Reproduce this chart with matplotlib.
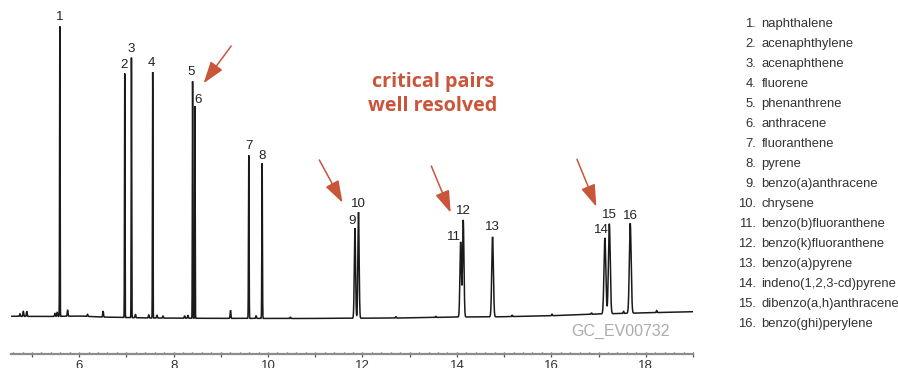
import numpy as np
import matplotlib
matplotlib.use("Agg")
import matplotlib.pyplot as plt
from matplotlib.ticker import MultipleLocator, FuncFormatter

# ---------------- data ----------------
peak_ids = list(range(1, 17))
compounds = ["naphthalene", "acenaphthylene", "acenaphthene", "fluorene",
             "phenanthrene", "anthracene", "fluoranthene", "pyrene",
             "benzo(a)anthracene", "chrysene", "benzo(b)fluoranthene",
             "benzo(k)fluoranthene", "benzo(a)pyrene", "indeno(1,2,3-cd)pyrene",
             "dibenzo(a,h)anthracene", "benzo(ghi)perylene"]
# retention time (min), peak height above baseline (response units), peak sigma (min)
peak_rt = [5.59, 6.965, 7.107, 7.557, 8.402, 8.451, 9.592, 9.875,
           11.840, 11.916, 14.079, 14.134, 14.755, 17.134, 17.228, 17.671]
peak_height = [290, 244, 260, 246, 237, 212, 163, 155,
               90, 106, 75, 97, 80, 76, 90, 90]
peak_sigma = [0.005, 0.005, 0.005, 0.005, 0.005, 0.005, 0.006, 0.006,
              0.013, 0.013, 0.015, 0.015, 0.017, 0.019, 0.019, 0.019]

# minor (unlabelled) peaks on the baseline
minor_rt = [4.747, 4.817, 4.889, 5.487, 5.535, 5.755, 6.177, 6.507, 7.192,
            7.473, 7.648, 7.775, 8.233, 8.303, 9.205, 9.748, 10.473, 12.706,
            13.551, 15.17, 16.015, 16.85, 17.53, 18.23]
minor_height = [2.5, 5, 5, 3, 4, 6, 2, 6, 3.5, 3, 3, 2, 2.5, 3, 8, 2.5, 1.5,
                1.5, 1.2, 1.5, 1.5, 1.5, 2, 2]

# baseline drift anchors
base_rt = [4.551, 5.381, 6.015, 6.437, 7.494, 8.551, 10.664, 12.777,
           14.045, 14.890, 15.946, 17.002, 17.847, 18.967]
base_resp = [37.7, 37.5, 38.0, 37.0, 36.0, 35.7, 35.5, 36.0,
             37.0, 37.2, 38.2, 40.0, 41.0, 42.3]

# arrows: (tail rt, tail resp) -> (tip rt, tip resp)
arrow_tail = [(9.220, 308.0), (11.086, 194.0), (13.458, 188.0), (16.543, 194.7)]
arrow_tip = [(8.635, 270.7), (11.578, 151.3), (13.868, 141.3), (16.953, 147.3)]

x_min, x_max = 4.55, 19.0
tick_labels_even = [6, 8, 10, 12, 14, 16, 18]

# label offsets (pixels) relative to peak apex
label_dx = [0, -1, 0, -1, -1, 3, 0, 0, -3, 0, -7, 0, 0, -4, 0, 0]
label_dy = [9, 8, 9, 9, 9, 6, 9, 7, 7, 8, 5, 9, 9.5, 8, 9, 7]

# ---------------- build trace ----------------
t = np.arange(x_min, x_max + 0.0005, 0.001)
signal = np.interp(t, base_rt, base_resp)
for rt, h, s in zip(peak_rt, peak_height, peak_sigma):
    signal += h * np.exp(-0.5 * ((t - rt) / s) ** 2)
for rt, h in zip(minor_rt, minor_height):
    signal += h * np.exp(-0.5 * ((t - rt) / 0.008) ** 2)

# ---------------- figure ----------------
W, H = 898, 368
fig = plt.figure(figsize=(W / 100, H / 100), dpi=100)
ax_left, ax_right, ax_bottom_px = 10.7, 693.0, 354.0
ax = fig.add_axes([ax_left / W, (H - ax_bottom_px) / H,
                   (ax_right - ax_left) / W, ax_bottom_px / H])
ax.set_xlim(x_min, x_max)
ax.set_ylim(0, ax_bottom_px)

ax.plot(t, signal, color="#1a1a1a", lw=1.1, solid_joinstyle="miter")

for sp in ["top", "right", "left"]:
    ax.spines[sp].set_visible(False)
ax.spines["bottom"].set_color("#8c8c8c")
ax.spines["bottom"].set_linewidth(1.6)
ax.set_yticks([])
ax.xaxis.set_major_locator(MultipleLocator(1))
ax.xaxis.set_minor_locator(MultipleLocator(0.2))
ax.xaxis.set_major_formatter(FuncFormatter(
    lambda v, p: f"{int(round(v))}" if int(round(v)) in tick_labels_even else ""))
ax.tick_params(axis="x", which="major", direction="inout", length=3.6,
               width=0.9, color="#555555", pad=2.2, labelsize=9.5,
               labelcolor="#333333")
ax.tick_params(axis="x", which="minor", direction="in", length=1.6,
               width=0.9, color="#555555")
for lab in ax.get_xticklabels():
    lab.set_fontfamily(["Liberation Sans", "DejaVu Sans"])

narrow = ["Liberation Sans Narrow", "Liberation Sans", "DejaVu Sans"]
# peak labels
for i, (rt, h) in enumerate(zip(peak_rt, peak_height)):
    apex = signal[np.abs(t - rt) < 0.01].max()
    ax.annotate(str(peak_ids[i]), xy=(rt, apex),
                xytext=(label_dx[i], label_dy[i]), textcoords="offset pixels",
                ha="center", va="center", fontsize=9.6, color="#222222",
                family=narrow)

# arrows
accent = "#c9553b"
for (tx, ty), (hx, hy) in zip(arrow_tail, arrow_tip):
    ax.annotate("", xy=(hx, hy), xytext=(tx, ty),
                arrowprops=dict(arrowstyle="-|>,head_length=1.35,head_width=0.45",
                                mutation_scale=10, color=accent, lw=1.1,
                                shrinkA=0, shrinkB=0),
                annotation_clip=False)

# headline
fig.text(433 / W, 1 - 86.7 / H, "critical pairs", ha="center", va="baseline",
         fontsize=14.2, fontweight="bold", color=accent,
         family=["Open Sans", "DejaVu Sans"])
fig.text(433 / W, 1 - 110.7 / H, "well resolved", ha="center", va="baseline",
         fontsize=14.2, fontweight="bold", color=accent,
         family=["Open Sans", "DejaVu Sans"])

# watermark
fig.text(621 / W, 1 - 331 / H, "GC_EV00732", ha="center", va="center",
         fontsize=11.5, color="#ababab", family=narrow)

# compound list
for i, name in enumerate(compounds):
    y = 1 - (24 + 20 * i) / H
    fig.text(756 / W, y, f"{peak_ids[i]}.", ha="right", va="center",
             fontsize=9.4, color="#333333", family=["Liberation Sans", "DejaVu Sans"])
    fig.text(761.5 / W, y, name, ha="left", va="center",
             fontsize=9.4, color="#333333", family=["Liberation Sans", "DejaVu Sans"])

fig.savefig("out.png", dpi=100)
